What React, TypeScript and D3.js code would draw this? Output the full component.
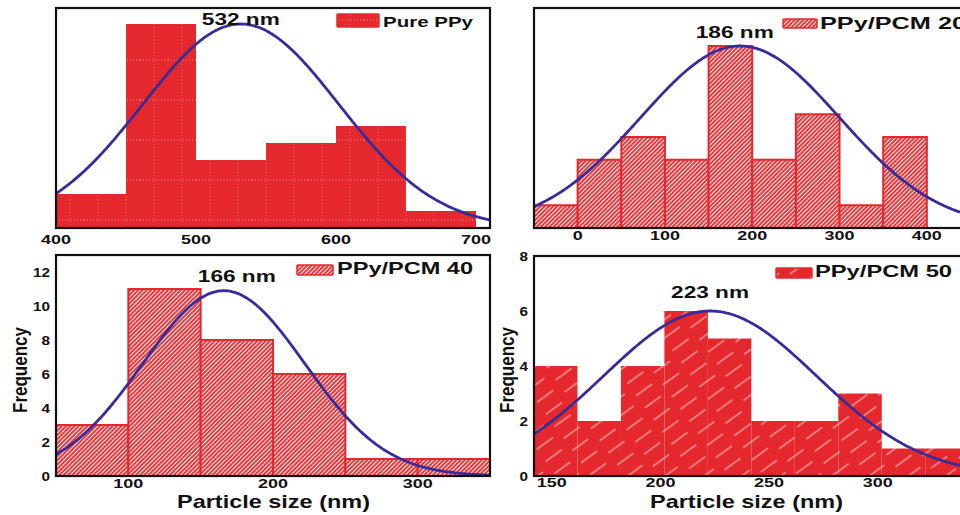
import React from "react";
import * as d3 from "d3";

const FONT = "'Liberation Sans', Arial, Helvetica, sans-serif";
const RED = "#e5282d";
const CURVE = "#3a2c98";

// ---- data ----
const ppyEdges = [400, 450, 500, 550, 600, 650, 700];
const ppyCounts = [2, 12, 4, 5, 6, 1];
const ppyFit = { mean: 532, sigma: 70, peak: 12 };
const ppyTicks = [400, 500, 600, 700];

const pcm20Edges = [-50, 0, 50, 100, 150, 200, 250, 300, 350, 400];
const pcm20Counts = [1, 3, 4, 3, 8, 3, 5, 1, 4];
const pcm20Fit = { mean: 186, sigma: 114, peak: 8 };
const pcm20Ticks = [0, 100, 200, 300, 400];

const pcm40Edges = [50, 100, 150, 200, 250, 300, 350];
const pcm40Counts = [3, 11, 8, 6, 1, 1];
const pcm40Fit = { mean: 166, sigma: 56, peak: 10.9 };
const pcm40XTicks = [100, 200, 300];
const pcm40YTicks = [0, 2, 4, 6, 8, 10, 12];

const pcm50Edges = [140, 160, 180, 200, 220, 240, 260, 280, 300, 320, 340];
const pcm50Counts = [4, 2, 4, 6, 5, 2, 2, 3, 1, 1];
const pcm50Fit = { mean: 221, sigma: 49, peak: 6 };
const pcm50XTicks = [150, 200, 250, 300];
const pcm50YTicks = [0, 2, 4, 6, 8];

type Fit = { mean: number; sigma: number; peak: number };

type PanelProps = {
  id: string;
  left: number;
  right: number;
  top: number;
  bottom: number;
  xDomain: [number, number];
  yDomain: [number, number];
  edges: number[];
  counts: number[];
  fit: Fit;
  fill: string;
  barStroke: string | null;
  xTicks: number[];
  yTicks?: number[];
  xTickY: number;
  xTickDx?: number;
  peakLabel: string;
  peakLabelX: number;
  peakLabelBaseline: number;
  legend: string;
  legendSwatch: [number, number, number, number];
  legendTextX: number;
  legendBaseline: number;
  legendLen: number;
  legendFont: number;
  yTitleX?: number;
  xTitleX?: number;
  frameRight?: number;
};

function Panel(p: PanelProps) {
  const x = d3.scaleLinear().domain(p.xDomain).range([p.left, p.right]);
  const y = d3.scaleLinear().domain(p.yDomain).range([p.bottom, p.top]);
  const samples = d3.range(p.xDomain[0], p.xDomain[1] + 0.5, (p.xDomain[1] - p.xDomain[0]) / 300);
  const line = d3
    .line<number>()
    .x((v) => x(v))
    .y((v) => y(p.fit.peak * Math.exp(-((v - p.fit.mean) ** 2) / (2 * p.fit.sigma ** 2))))
    .curve(d3.curveBasis);
  const clipId = `clip-${p.id}`;
  const fr = p.frameRight ?? p.right;
  const [sx, sy, sw, sh] = p.legendSwatch;
  return (
    <g>
      <defs>
        <clipPath id={clipId}>
          <rect x={p.left} y={p.top} width={p.right - p.left} height={p.bottom - p.top} />
        </clipPath>
      </defs>
      <g clipPath={`url(#${clipId})`}>
        {p.counts.map((c, i) => (
          <rect
            key={i}
            x={x(p.edges[i])}
            y={y(c)}
            width={x(p.edges[i + 1]) - x(p.edges[i])}
            height={y(0) - y(c)}
            fill={p.fill}
            stroke={p.barStroke ?? "none"}
            strokeWidth={p.barStroke ? 2 : 0}
          />
        ))}
        <path d={line(samples) ?? ""} fill="none" stroke={CURVE} strokeWidth={2.8} />
      </g>
      <rect
        x={p.left}
        y={p.top}
        width={fr - p.left}
        height={p.bottom - p.top}
        fill="none"
        stroke="#111"
        strokeWidth={2.2}
      />
      {p.xTicks.map((t) => {
        const s = String(t);
        const len = s.length * 10;
        return (
          <text
            key={`xt${t}`}
            x={x(t) - len / 2 + (p.xTickDx ?? 0)}
            y={p.xTickY}
            fontFamily={FONT}
            fontWeight="bold"
            fontSize={13.5}
            textLength={len}
            lengthAdjust="spacingAndGlyphs"
            fill="#111"
          >
            {s}
          </text>
        );
      })}
      {(p.yTicks ?? []).map((t) => {
        const s = String(t);
        const len = s.length * 8.5;
        return (
          <text
            key={`yt${t}`}
            x={p.left - 6 - len}
            y={y(t) + 4.5}
            fontFamily={FONT}
            fontWeight="bold"
            fontSize={13}
            textLength={len}
            lengthAdjust="spacingAndGlyphs"
            fill="#111"
          >
            {s}
          </text>
        );
      })}
      <text
        x={x(p.peakLabelX) - 39}
        y={p.peakLabelBaseline}
        fontFamily={FONT}
        fontWeight="bold"
        fontSize={17}
        textLength={78}
        lengthAdjust="spacingAndGlyphs"
        fill="#111"
      >
        {p.peakLabel}
      </text>
      <rect x={sx} y={sy} width={sw} height={sh} fill={p.fill} stroke={RED} strokeWidth={1.5} rx={1} />
      <text
        x={p.legendTextX}
        y={p.legendBaseline}
        fontFamily={FONT}
        fontWeight="bold"
        fontSize={p.legendFont}
        textLength={p.legendLen}
        lengthAdjust="spacingAndGlyphs"
        fill="#111"
      >
        {p.legend}
      </text>
      {p.yTitleX !== undefined && (
        <text
          transform={`translate(${p.yTitleX},370) rotate(-90)`}
          textAnchor="middle"
          fontFamily={FONT}
          fontWeight="bold"
          fontSize={21}
          textLength={86}
          lengthAdjust="spacingAndGlyphs"
          fill="#111"
        >
          Frequency
        </text>
      )}
      {p.xTitleX !== undefined && (
        <text
          x={p.xTitleX}
          y={508}
          fontFamily={FONT}
          fontWeight="bold"
          fontSize={18.5}
          textLength={193}
          lengthAdjust="spacingAndGlyphs"
          fill="#111"
        >
          Particle size (nm)
        </text>
      )}
    </g>
  );
}

export default function App() {
  return (
    <svg
      width={960}
      height={515}
      viewBox="0 0 960 515"
      style={{ position: "absolute", left: 0, top: 0, background: "#fff" }}
    >
      <defs>
        <pattern id="solidDots" width={28} height={40} patternUnits="userSpaceOnUse">
          <rect width={28} height={40} fill={RED} />
          <line x1={0} y1={20} x2={28} y2={20} stroke="#fff" strokeOpacity={0.45} strokeWidth={1} strokeDasharray="1 2" />
          <line x1={14} y1={0} x2={14} y2={40} stroke="#fff" strokeOpacity={0.3} strokeWidth={1} strokeDasharray="1 2" />
        </pattern>
        <pattern
          id="hatch"
          width={3}
          height={3}
          patternUnits="userSpaceOnUse"
          patternTransform="rotate(-45)"
        >
          <rect width={3} height={3} fill="#e63a3e" />
          <line x1={0} y1={1.5} x2={3} y2={1.5} stroke="#fff" strokeWidth={1} strokeOpacity={0.9} />
        </pattern>
        <pattern
          id="dashes"
          width={56}
          height={15}
          patternUnits="userSpaceOnUse"
          patternTransform="rotate(-36)"
        >
          <rect width={56} height={15} fill={RED} />
          <line x1={2} y1={4} x2={22} y2={4} stroke="#fff" strokeOpacity={0.75} strokeWidth={1} />
          <line x1={30} y1={11} x2={50} y2={11} stroke="#fff" strokeOpacity={0.75} strokeWidth={1} />
        </pattern>
      </defs>

      <Panel
        id="p1"
        left={56}
        right={490}
        top={8}
        bottom={228}
        xDomain={[400, 710]}
        yDomain={[0, 12.94]}
        edges={ppyEdges}
        counts={ppyCounts}
        fit={ppyFit}
        fill="url(#solidDots)"
        barStroke={null}
        xTicks={ppyTicks}
        xTickY={244}
        peakLabel="532 nm"
        peakLabelX={532}
        peakLabelBaseline={25}
        legend="Pure PPy"
        legendSwatch={[337, 14, 42, 13]}
        legendTextX={383}
        legendBaseline={27}
        legendLen={90}
        legendFont={15}
      />
      <Panel
        id="p2"
        left={534}
        right={960}
        top={8}
        bottom={228}
        xDomain={[-50, 438]}
        yDomain={[0, 9.67]}
        edges={pcm20Edges}
        counts={pcm20Counts}
        fit={pcm20Fit}
        fill="url(#hatch)"
        barStroke={RED}
        xTicks={pcm20Ticks}
        xTickY={240}
        peakLabel="186 nm"
        peakLabelX={180}
        peakLabelBaseline={38}
        legend="PPy/PCM 20"
        legendSwatch={[783, 19, 34, 9]}
        legendTextX={820}
        legendBaseline={29}
        legendLen={146}
        legendFont={17}
        frameRight={963}
      />
      <Panel
        id="p3"
        left={56}
        right={490}
        top={255}
        bottom={476}
        xDomain={[50, 350]}
        yDomain={[0, 13]}
        edges={pcm40Edges}
        counts={pcm40Counts}
        fit={pcm40Fit}
        fill="url(#hatch)"
        barStroke={RED}
        xTicks={pcm40XTicks}
        yTicks={pcm40YTicks}
        xTickY={488}
        peakLabel="166 nm"
        peakLabelX={175}
        peakLabelBaseline={282}
        legend="PPy/PCM 40"
        legendSwatch={[297, 265, 36, 10]}
        legendTextX={337}
        legendBaseline={274}
        legendLen={136}
        legendFont={17}
        yTitleX={27}
        xTitleX={177}
      />
      <Panel
        id="p4"
        left={534}
        right={960}
        top={256}
        bottom={476}
        xDomain={[140, 336]}
        yDomain={[0, 8]}
        edges={pcm50Edges}
        counts={pcm50Counts}
        fit={pcm50Fit}
        fill="url(#dashes)"
        barStroke={null}
        xTicks={pcm50XTicks}
        yTicks={pcm50YTicks}
        xTickY={487}
        xTickDx={-4}
        peakLabel="223 nm"
        peakLabelX={221}
        peakLabelBaseline={298}
        legend="PPy/PCM 50"
        legendSwatch={[776, 268, 36, 10]}
        legendTextX={815}
        legendBaseline={277}
        legendLen={137}
        legendFont={17}
        yTitleX={514}
        xTitleX={650}
        frameRight={963}
      />
    </svg>
  );
}
